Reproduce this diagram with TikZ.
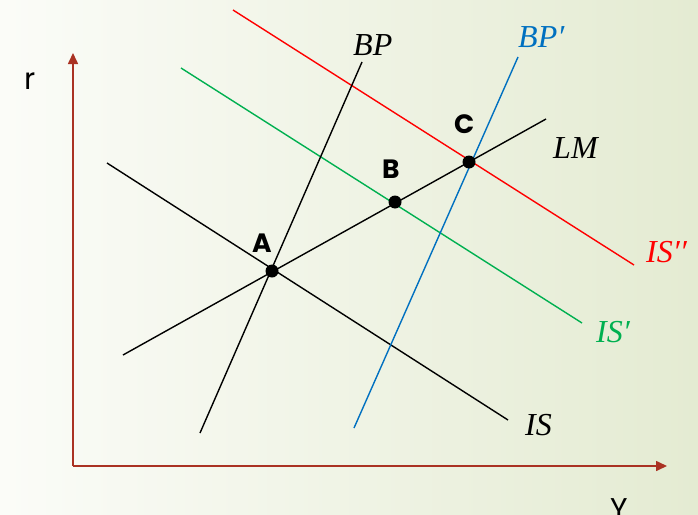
\documentclass[tikz,border=0pt]{standalone}
\usepackage{fontspec}
\newfontfamily\geo{Poppins}
\newfontfamily\lserif{Liberation Serif}
\usetikzlibrary{arrows.meta}
\definecolor{axisred}{RGB}{170,50,35}
\definecolor{isgreen}{RGB}{0,176,80}
\definecolor{bpblue}{RGB}{0,112,192}
\definecolor{bgleft}{RGB}{251,252,248}
\definecolor{bgright}{RGB}{228,235,210}
\tikzset{
  curve/.style={line width=1.4pt},
  axis/.style={line width=1.6pt, draw=axisred, -{Triangle[length=11pt,width=10pt]}},
  dot/.style={circle, fill=black, inner sep=0pt, minimum size=13pt},
  mlabel/.style={inner sep=0pt, anchor=base west, font=\lserif\itshape\fontsize{32}{32}\selectfont},
  plabel/.style={inner sep=0pt, anchor=base west, font=\geo\bfseries\fontsize{26.5}{26.5}\selectfont},
  alabel/.style={inner sep=0pt, font=\geo\fontsize{30}{30}\selectfont}
}
\begin{document}
\begin{tikzpicture}[x=1pt,y=-1pt]
\useasboundingbox (0,0) rectangle (698,514);
\shade[left color=bgleft, right color=bgright] (0,0) rectangle (698,514);
% axes
\coordinate (O) at (73,466);
\coordinate (rtop) at (73,53);
\coordinate (ytip) at (667,466);
\draw[axis] (O) -- (rtop);
\draw[axis] (73,466) -- (ytip);
\node[alabel, anchor=base west] (rl) at (24,89) {r};
\node[alabel, anchor=base] (yl) at (619,519) {Y};
% curve end points
\coordinate (is1) at (107,163);   \coordinate (is2) at (508,420);
\coordinate (isp1) at (181,68);   \coordinate (isp2) at (582,323);
\coordinate (ispp1) at (233,10);  \coordinate (ispp2) at (634,265);
\coordinate (lm1) at (123,355);   \coordinate (lm2) at (546,119);
\coordinate (bp1) at (200,433);   \coordinate (bp2) at (362,62);
\coordinate (bpp1) at (354,428);  \coordinate (bpp2) at (518,57);
\draw[curve, red] (ispp1) -- (ispp2);
\draw[curve, isgreen] (isp1) -- (isp2);
\draw[curve, black] (is1) -- (is2);
\draw[curve, black] (lm1) -- (lm2);
\draw[curve, black] (bp1) -- (bp2);
\draw[curve, bpblue] (bpp1) -- (bpp2);
% points
\node[dot] (A) at (272,271) {};
\node[dot] (B) at (395,202) {};
\node[dot] (C) at (469,162) {};
\node[plabel] (Al) at (252,252) {A};
\node[plabel] (Bl) at (382,178) {B};
\node[plabel] (Cl) at (454,133) {C};
% curve labels
\node[mlabel] (bpl) at (353,55) {BP};
\node[mlabel, text=bpblue] (bppl) at (518,47) {BP′};
\node[mlabel] (lml) at (553,158) {LM};
\node[mlabel, text=red] (isppl) at (646,262) {IS′′};
\node[mlabel, text=isgreen] (ispl) at (596,342) {IS′};
\node[mlabel] (isl) at (525,435) {IS};
\end{tikzpicture}
\end{document}
